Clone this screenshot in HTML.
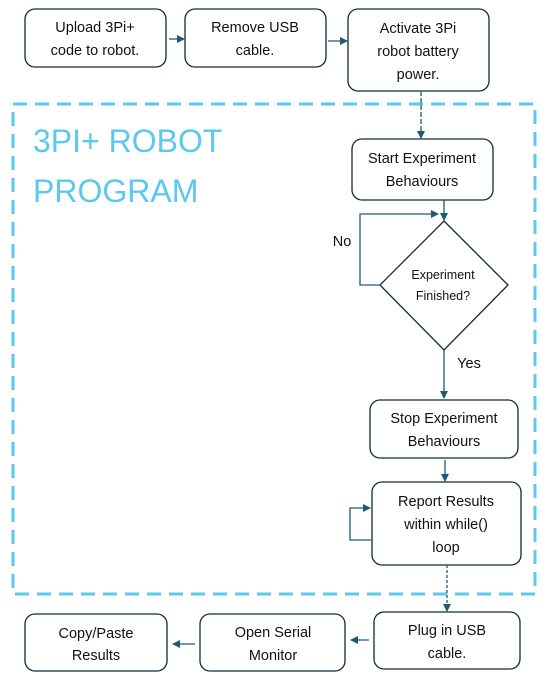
<!DOCTYPE html>
<html><head><meta charset="utf-8"><style>
html,body{margin:0;padding:0;background:#fff;}
svg{display:block;font-family:"Liberation Sans",sans-serif;}
.b{fill:#fff;stroke:#0e2a3a;stroke-width:1.3;}
.l{stroke:#1d5a7a;stroke-width:1.3;fill:none;}
text{font-size:14.5px;fill:#111;text-anchor:middle;}
</style></head><body>
<svg width="548" height="681" viewBox="0 0 548 681">
<defs><marker id="a" markerWidth="8" markerHeight="8" refX="7" refY="4" orient="auto" markerUnits="userSpaceOnUse"><path d="M0,0L8,4L0,8z" fill="#1d5a7a"/></marker></defs>
<rect x="13" y="104" width="522" height="490" fill="none" stroke="#5bc8ef" stroke-width="3" stroke-dasharray="14,8"/>
<text x="33" y="152" style="font-size:32px;fill:#5bc8ef;text-anchor:start">3PI+ ROBOT</text>
<text x="33" y="202" style="font-size:32px;fill:#5bc8ef;text-anchor:start">PROGRAM</text>

<rect class="b" x="25" y="9" width="141" height="58" rx="10"/>
<text x="95" y="32">Upload 3Pi+</text><text x="95" y="55">code to robot.</text>
<rect class="b" x="185" y="9" width="141" height="58" rx="10"/>
<text x="255" y="32">Remove USB</text><text x="255" y="55">cable.</text>
<rect class="b" x="348" y="9" width="141" height="82" rx="10"/>
<text x="418" y="33">Activate 3Pi</text><text x="418" y="56">robot battery</text><text x="418" y="79">power.</text>
<line class="l" x1="169" y1="39" x2="184" y2="39" marker-end="url(#a)"/>
<line class="l" x1="328" y1="41" x2="347" y2="41" marker-end="url(#a)"/>
<line class="l" x1="421" y1="91" x2="421" y2="138" stroke-dasharray="5,2" marker-end="url(#a)"/>

<rect class="b" x="352" y="139" width="141" height="61" rx="10"/>
<text x="422" y="163">Start Experiment</text><text x="422" y="186">Behaviours</text>
<line class="l" x1="444" y1="200" x2="444" y2="220" marker-end="url(#a)"/>
<polygon class="b" points="444,221 508,285 444,350 380,285"/>
<text x="443" y="279" style="font-size:12.5px">Experiment</text><text x="443" y="300" style="font-size:12.5px">Finished?</text>
<polyline class="l" points="380,285 360,285 360,214 438,214" marker-end="url(#a)"/>
<text x="342" y="246">No</text>
<line class="l" x1="444" y1="350" x2="444" y2="398" marker-end="url(#a)"/>
<text x="469" y="368">Yes</text>

<rect class="b" x="370" y="400" width="148" height="58" rx="10"/>
<text x="444" y="423">Stop Experiment</text><text x="444" y="446">Behaviours</text>
<line class="l" x1="445" y1="460" x2="445" y2="481" marker-end="url(#a)"/>
<rect class="b" x="372" y="482" width="149" height="83" rx="10"/>
<text x="446" y="506">Report Results</text><text x="446" y="529">within while()</text><text x="446" y="552">loop</text>
<polyline class="l" points="371,540 350,540 350,508 370,508" marker-end="url(#a)"/>
<line class="l" x1="447" y1="565" x2="447" y2="611" stroke-dasharray="3,2" marker-end="url(#a)"/>

<rect class="b" x="374" y="612" width="146" height="57" rx="10"/>
<text x="447" y="635">Plug in USB</text><text x="447" y="658">cable.</text>
<rect class="b" x="200" y="614" width="145" height="57" rx="10"/>
<text x="273" y="637">Open Serial</text><text x="273" y="660">Monitor</text>
<rect class="b" x="25" y="614" width="142" height="57" rx="10"/>
<text x="96" y="638">Copy/Paste</text><text x="96" y="660">Results</text>
<line class="l" x1="369" y1="640" x2="351" y2="640" marker-end="url(#a)"/>
<line class="l" x1="195" y1="644" x2="173" y2="644" marker-end="url(#a)"/>
</svg>
</body></html>
